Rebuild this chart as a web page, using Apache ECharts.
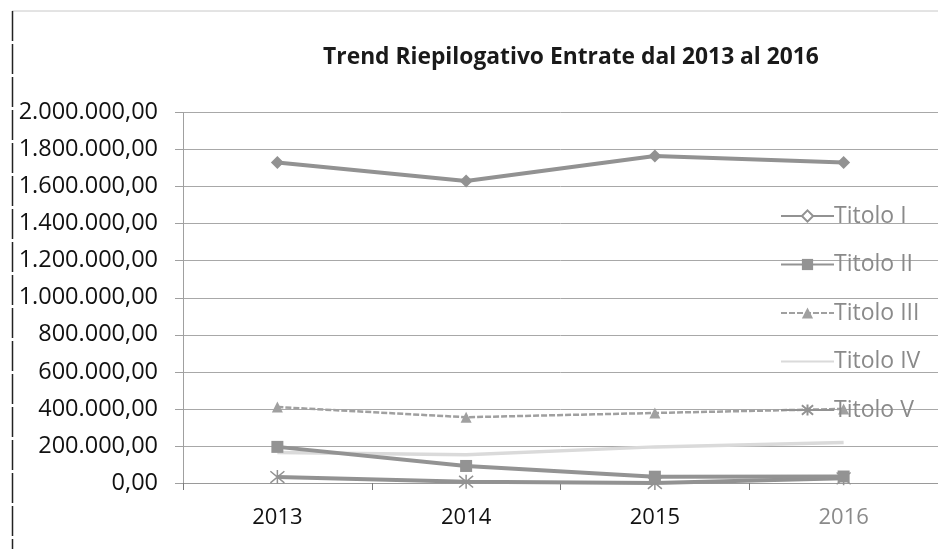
<!DOCTYPE html>
<html><head><meta charset="utf-8">
<script src="https://cdn.jsdelivr.net/npm/echarts@6/dist/echarts.min.js"></script>
<style>html,body{margin:0;padding:0;background:#fff}#c{width:938px;height:549px}</style>
</head><body><div id="c"></div>
<script>
const titleText = 'Trend Riepilogativo Entrate dal 2013 al 2016';
const categories = ['2013', '2014', '2015', '2016'];
const seriesNames = ['Titolo I', 'Titolo II', 'Titolo III', 'Titolo IV', 'Titolo V'];
const titolo1 = [1730000, 1630000, 1765000, 1730000];
const titolo2 = [195000, 92000, 34000, 35000];
const titolo3 = [410000, 355000, 378000, 400000];
const titolo4 = [165000, 152000, 195000, 218000];
const titolo5 = [32000, 7000, 0, 25000];
const yMin = 0, yMax = 2000000, yStep = 200000;

function fmtIt(v) {
  const s = Math.round(v).toString().replace(/\B(?=(\d{3})+(?!\d))/g, '.');
  return s + ',00';
}
const asterisk = 'path://M0,0 L10,10 M10,0 L0,10 M5,-1 L5,11';

const chart = echarts.init(document.getElementById('c'), null, {renderer: 'canvas'});
const font = 'Open Sans';
chart.setOption({
  animation: false,
  backgroundColor: '#fff',
  title: {
    text: titleText, left: 566, top: 41, textAlign: 'center',
    textStyle: {fontFamily: font, fontWeight: 'bold', fontSize: 22.8, color: '#1a1a1a'}
  },
  graphic: [
    {type: 'line', shape: {x1: 12, y1: 11, x2: 938, y2: 11}, style: {stroke: '#c8c8c8', lineWidth: 1}},
    {type: 'line', shape: {x1: 12.5, y1: 11, x2: 12.5, y2: 549}, style: {stroke: '#222', lineWidth: 1.5, lineDash: [30, 3]}}
  ],
  grid: {left: 183, top: 112.5, width: 766, height: 370.5, containLabel: false},
  xAxis: {
    type: 'category', data: categories, boundaryGap: true,
    axisLine: {show: true, lineStyle: {color: '#9a9a9a', width: 1}},
    axisTick: {show: true, length: 7, lineStyle: {color: '#7a7a7a'}},
    axisLabel: {
      margin: 24, fontFamily: font, fontSize: 22,
      color: function (v, i) { return i === 3 ? '#8a8a8a' : '#111'; }
    }
  },
  yAxis: {
    type: 'value', min: yMin, max: yMax, interval: yStep,
    axisLine: {show: true, lineStyle: {color: '#a0a0a0', width: 1}},
    axisTick: {show: true, length: 8, lineStyle: {color: '#a0a0a0'}},
    splitLine: {show: true, lineStyle: {color: '#a8a8a8', width: 1}},
    axisLabel: {margin: 25, fontFamily: font, fontSize: 23.5, color: '#111', formatter: fmtIt}
  },
  legend: {
    orient: 'vertical', left: 775, top: 197, itemGap: 20.5, itemWidth: 53, itemHeight: 14,
    data: [
      {name: seriesNames[0], itemStyle: {color: '#fff', borderColor: '#929292', borderWidth: 2}},
      seriesNames[1], seriesNames[2],
      {name: seriesNames[3], itemStyle: {opacity: 0}},
      seriesNames[4]
    ],
    textStyle: {fontFamily: font, fontSize: 23, color: '#8a8a8a', lineHeight: 28, padding: [0, 0, 0, -5]}
  },
  series: [
    {name: seriesNames[0], type: 'line', data: titolo1, symbol: 'diamond', symbolSize: 13,
      lineStyle: {color: '#929292', width: 4}, itemStyle: {color: '#929292'}, z: 5},
    {name: seriesNames[1], type: 'line', data: titolo2, symbol: 'rect', symbolSize: 12,
      lineStyle: {color: '#939393', width: 4}, itemStyle: {color: '#939393'}, z: 4},
    {name: seriesNames[2], type: 'line', data: titolo3, symbol: 'triangle', symbolSize: 11,
      lineStyle: {color: '#a0a0a0', width: 2.5, type: [6, 2]}, itemStyle: {color: '#a0a0a0'}, z: 3},
    {name: seriesNames[3], type: 'line', data: titolo4, symbol: 'none',
      lineStyle: {color: '#dadada', width: 3.5}, itemStyle: {color: '#dadada'}, z: 2},
    {name: seriesNames[4], type: 'line', data: titolo5, symbol: asterisk, symbolSize: 14,
      lineStyle: {color: '#929292', width: 4},
      itemStyle: {color: 'rgba(0,0,0,0)', borderColor: '#929292', borderWidth: 1.5}, z: 3}
  ]
});
</script></body></html>
